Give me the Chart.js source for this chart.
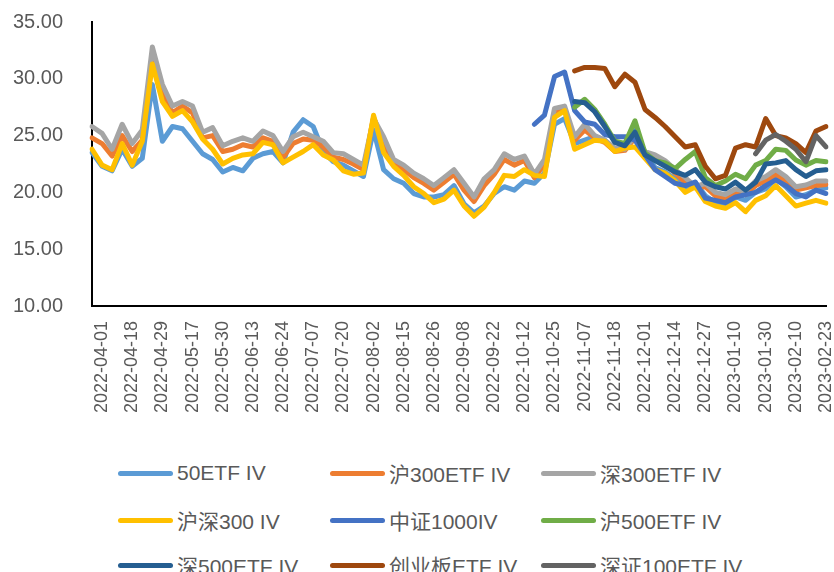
<!DOCTYPE html>
<html>
<head>
<meta charset="utf-8">
<script src="https://cdn.jsdelivr.net/npm/chart.js@4.4.1/dist/chart.umd.min.js"></script>
<style>
  html, body { margin: 0; padding: 0; background: #fff; }
  #wrap { position: relative; width: 834px; height: 572px; overflow: hidden; }
  #chartBox { position: absolute; left: 0; top: 0; width: 834px; height: 440px; }
  .item { position: absolute; height: 26px; display: flex; align-items: center;
          font: 21px "Liberation Sans", "Noto Sans CJK SC", sans-serif; color: #595959; white-space: nowrap; }
  .swatch { display: inline-block; width: 55px; height: 5px; border-radius: 3px; margin-right: 4px; }
</style>
</head>
<body>
<div id="wrap">
  <div id="chartBox"><canvas id="ivChart" width="834" height="440"></canvas></div>
  <div id="legend"></div>
</div>
<script>
// 横轴每隔一个标签显示一次的日期
const tickLabels = ['2022-04-01','2022-04-18','2022-04-29','2022-05-17','2022-05-30','2022-06-13',
  '2022-06-24','2022-07-07','2022-07-20','2022-08-02','2022-08-15','2022-08-26','2022-09-08',
  '2022-09-22','2022-10-12','2022-10-25','2022-11-07','2022-11-18','2022-12-01','2022-12-14',
  '2022-12-27','2023-01-10','2023-01-30','2023-02-10','2023-02-23'];

const seriesNames = ['50ETF IV','沪300ETF IV','深300ETF IV','沪深300 IV','中证1000IV',
  '沪500ETF IV','深500ETF IV','创业板ETF IV','深证100ETF IV'];
const seriesColors = ['#5B9BD5','#ED7D31','#A5A5A5','#FFC000','#4472C4',
  '#70AD47','#255E91','#9E480E','#636363'];

// 每3个交易日取一个点, 共74个点
const iv50 = [23.5,22.3,21.9,23.8,22.3,23.0,29.5,24.5,25.8,25.6,
  24.5,23.4,22.9,21.8,22.2,21.9,23.0,23.4,23.6,22.6,
  25.3,26.4,25.8,23.6,22.7,22.4,21.9,21.4,25.5,22.0,
  21.2,20.8,19.9,19.6,19.6,19.8,20.6,19.0,18.2,18.8,
  19.9,20.5,20.2,21.0,20.8,21.7,26.0,26.5,24.3,24.6,
  24.9,24.6,23.7,23.9,25.5,23.4,22.2,21.8,21.2,20.3,
  20.9,19.7,19.1,18.9,19.6,19.3,20.0,20.3,21.2,20.5,
  19.6,19.8,20.2,20.4];
const ivSh300 = [24.8,24.3,23.2,25.0,23.6,24.6,31.8,28.8,27.0,27.6,
  27.0,24.8,25.0,23.6,23.8,24.2,24.0,24.8,24.5,23.1,
  24.3,24.7,24.6,24.0,23.1,22.9,22.5,22.0,26.6,24.4,
  22.6,22.0,21.3,20.8,20.2,20.9,21.6,20.2,19.2,20.6,
  21.6,22.9,22.4,22.8,21.3,22.5,27.0,27.3,24.6,25.5,
  24.8,24.4,23.6,23.7,24.8,23.4,23.0,22.5,21.7,20.9,
  20.4,20.5,19.7,19.4,20.0,19.8,20.6,21.0,21.6,21.0,
  20.2,20.4,20.6,20.7];
const ivSz300 = [25.8,25.2,23.8,26.0,24.3,25.5,32.8,29.5,27.6,28.0,
  27.6,25.3,25.7,24.1,24.5,24.8,24.5,25.4,25.0,23.6,
  24.9,25.3,24.9,24.5,23.5,23.4,22.9,22.4,26.5,24.9,
  22.9,22.4,21.7,21.2,20.6,21.3,22.0,20.8,19.6,21.2,
  22.0,23.4,22.9,23.2,21.6,22.9,27.4,27.6,24.9,26.0,
  25.0,24.6,23.9,23.8,25.0,23.6,23.3,22.8,22.0,21.3,
  20.5,20.8,20.0,19.8,20.3,20.1,21.0,21.4,22.0,21.4,
  20.5,20.65,21.0,21.0];
const iv300 = [23.8,22.4,22.0,24.3,22.4,24.5,31.3,28.0,26.7,27.2,
  26.2,24.7,23.8,22.5,23.0,23.3,23.4,24.4,24.2,22.6,
  23.1,23.6,24.2,23.3,22.85,21.9,21.6,21.7,26.8,23.5,
  22.3,21.5,20.5,19.9,19.1,19.4,20.2,18.8,17.9,18.7,
  20.0,21.5,21.4,22.0,21.5,21.4,26.6,27.2,23.8,24.2,
  24.6,24.5,23.6,23.9,24.0,23.0,22.0,21.7,21.0,20.0,
  20.5,19.2,18.8,18.6,19.1,18.3,19.3,19.7,20.6,19.7,
  18.8,19.05,19.3,19.05];
// 后上市的品种: 起始点序号 + 数值
const start1000 = 44;
const iv1000 = [26.0,26.8,30.2,30.6,27.2,26.2,26.0,25.1,24.9,24.9,
  24.6,23.3,22.0,21.4,20.8,20.6,20.9,19.5,19.3,19.1,
  19.6,19.8,20.0,20.6,21.1,20.6,19.9,19.6,20.2,19.9];
const start500 = 48;
const ivSh500 = [27.5,28.2,27.3,26.0,24.5,24.3,26.3,23.5,22.8,22.6,
  22.1,22.9,23.6,21.3,20.6,21.0,21.6,21.2,22.4,22.8,
  23.8,23.7,22.85,22.4,22.8,22.7];
const ivSz500 = [28.0,27.9,27.1,25.8,24.4,24.1,25.3,23.3,22.8,22.3,
  21.8,21.5,22.0,20.9,20.5,20.3,20.9,20.2,20.9,22.5,
  22.6,22.8,22.0,21.4,21.9,22.0];
const ivCyb = [30.7,31.0,31.0,30.9,29.3,30.4,29.7,27.3,26.6,25.8,
  24.9,24.0,24.2,22.3,21.2,21.5,23.9,24.2,24.0,26.5,
  25.0,24.8,24.3,23.5,25.4,25.8];
const start100 = 66;
const ivSz100 = [23.4,24.6,25.1,24.5,23.8,22.7,25.0,24.0];

const pointCount = iv50.length;
const categories = [];
for (let j = 0; j < pointCount; j++) {
  categories.push(j % 3 === 1 ? tickLabels[(j - 1) / 3] : '');
}

function pad(values, start) {
  const out = Array(start).fill(null);
  return out.concat(values);
}

const allSeries = [iv50, ivSh300, ivSz300, iv300, pad(iv1000, start1000),
  pad(ivSh500, start500), pad(ivSz500, start500), pad(ivCyb, start500), pad(ivSz100, start100)];

const datasets = allSeries.map((data, i) => ({
  label: seriesNames[i],
  data: data,
  borderColor: seriesColors[i],
  backgroundColor: seriesColors[i],
  borderWidth: 5,
  pointRadius: 0,
  pointHoverRadius: 0,
  tension: 0,
  borderJoinStyle: 'round',
  borderCapStyle: 'round',
  order: allSeries.length - i, // 后面的系列画在上面
}));

new Chart(document.getElementById('ivChart'), {
  type: 'line',
  data: { labels: categories, datasets: datasets },
  options: {
    responsive: false,
    animation: false,
    events: [],
    layout: { padding: { top: 22, right: 8, left: 0, bottom: 0 } },
    plugins: { legend: { display: false }, tooltip: { enabled: false } },
    scales: {
      x: {
        type: 'category',
        offset: false,
        grid: { display: false, drawTicks: false },
        border: { display: true, color: '#000', width: 2 },
        ticks: {
          autoSkip: false,
          maxRotation: 90,
          minRotation: 90,
          padding: 15,
          color: '#595959',
          font: { family: 'Liberation Sans', size: 18 },
        },
        afterFit: (scale) => {
          scale.height = 134;
          scale.paddingLeft = 0;
          scale.paddingRight = 0;
        },
      },
      y: {
        min: 10,
        max: 35,
        grid: { display: false, drawTicks: false },
        border: { display: true, color: '#000', width: 2 },
        ticks: {
          stepSize: 5,
          padding: 29,
          color: '#595959',
          font: { family: 'Liberation Sans', size: 20 },
          callback: (v) => v.toFixed(2),
        },
        afterFit: (scale) => {
          scale.width = 92;
          scale.paddingTop = 0;
          scale.paddingBottom = 0;
        },
      },
    },
  },
});

// 图例: 三列
const legendCols = [118, 330, 541];
const legendRows = [473, 520, 565];
const legend = document.getElementById('legend');
seriesNames.forEach((name, i) => {
  const item = document.createElement('div');
  item.className = 'item';
  item.style.left = legendCols[i % 3] + 'px';
  item.style.top = (legendRows[Math.floor(i / 3)] - 13) + 'px';
  item.innerHTML = '<span class="swatch" style="background:' + seriesColors[i] + '"></span>' + name;
  legend.appendChild(item);
});
</script>
</body>
</html>
